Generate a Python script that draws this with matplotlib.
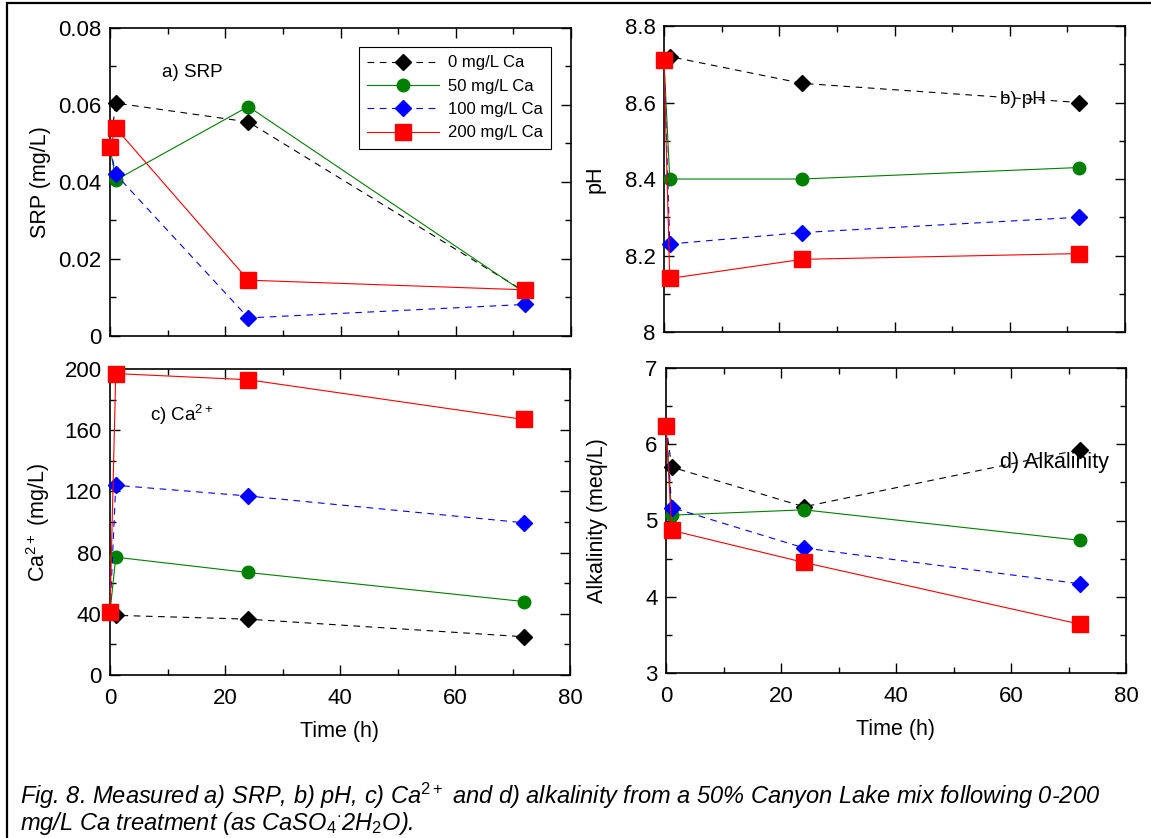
import matplotlib
matplotlib.use("Agg")
import matplotlib.pyplot as plt
from matplotlib.patches import Rectangle
from matplotlib.ticker import MultipleLocator, FuncFormatter

plt.rcParams['font.family'] = ['Liberation Sans', 'DejaVu Sans']
plt.rcParams['mathtext.fontset'] = 'custom'
plt.rcParams['mathtext.rm'] = 'Liberation Sans'
plt.rcParams['mathtext.it'] = 'Liberation Sans:italic'

# sampling times (h)
time_h = [0, 1, 24, 72]
doses = ['0 mg/L Ca', '50 mg/L Ca', '100 mg/L Ca', '200 mg/L Ca']

# a) SRP (mg/L)
srp_0 = [0.049, 0.0605, 0.0556, 0.0115]
srp_50 = [0.049, 0.0405, 0.0596, 0.0112]
srp_100 = [0.049, 0.042, 0.0047, 0.0082]
srp_200 = [0.049, 0.054, 0.0145, 0.012]

# b) pH
ph_0 = [8.71, 8.72, 8.65, 8.60]
ph_50 = [8.71, 8.40, 8.40, 8.43]
ph_100 = [8.71, 8.23, 8.26, 8.30]
ph_200 = [8.71, 8.14, 8.19, 8.205]

# c) Ca2+ (mg/L)
ca_0 = [41, 39, 36.5, 25]
ca_50 = [41, 77, 67, 48]
ca_100 = [41, 124, 117, 99.5]
ca_200 = [41, 197, 193, 167]

# d) Alkalinity (meq/L)
alk_0 = [6.24, 5.70, 5.18, 5.93]
alk_50 = [6.24, 5.07, 5.14, 4.74]
alk_100 = [6.24, 5.17, 4.64, 4.17]
alk_200 = [6.24, 4.87, 4.45, 3.64]

styles = [
    dict(color='black', ls=(0, (6, 5)), marker='D', ms=8),
    dict(color='green', ls='-', marker='o', ms=9),
    dict(color='blue', ls=(0, (6, 5)), marker='D', ms=8),
    dict(color='red', ls='-', marker='s', ms=11),
]

W, H = 1151, 838
fig = plt.figure(figsize=(W / 100, H / 100), dpi=100)


def add_ax(x0, y0, x1, y1):
    return fig.add_axes([x0 / W, 1 - y1 / H, (x1 - x0) / W, (y1 - y0) / H])


ax_a = add_ax(110, 28, 571, 336)
ax_b = add_ax(664, 26, 1125, 332)
ax_c = add_ax(110, 369, 570, 675)
ax_d = add_ax(666, 368, 1126, 673)

panels = [
    (ax_a, [srp_0, srp_50, srp_100, srp_200], (0, 0.08), 0.02, 0.01, 'SRP (mg/L)'),
    (ax_b, [ph_0, ph_50, ph_100, ph_200], (8, 8.8), 0.2, 0.1, 'pH'),
    (ax_c, [ca_0, ca_50, ca_100, ca_200], (0, 200), 40, 20, 'Ca$^{2+}$ (mg/L)'),
    (ax_d, [alk_0, alk_50, alk_100, alk_200], (3, 7), 1, 0.5, 'Alkalinity (meq/L)'),
]

fmt = FuncFormatter(lambda v, p: '%g' % round(v, 6))

for i, (ax, series, ylim, major, minor, ylabel) in enumerate(panels):
    for vals, st, lab in zip(series, styles, doses):
        ax.plot(time_h, vals, color=st['color'], ls=st['ls'], lw=0.8,
                marker=st['marker'], ms=st['ms'], mec=st['color'],
                mfc=st['color'], label=lab, clip_on=False, zorder=3)
    ax.set_xlim(0, 80)
    ax.set_ylim(*ylim)
    ax.xaxis.set_major_locator(MultipleLocator(20))
    ax.xaxis.set_minor_locator(MultipleLocator(10))
    ax.yaxis.set_major_locator(MultipleLocator(major))
    ax.yaxis.set_minor_locator(MultipleLocator(minor))
    ax.yaxis.set_major_formatter(fmt)
    ax.tick_params(which='both', direction='in', top=True, right=True,
                   labelsize=16, width=1)
    ax.tick_params(axis='y', pad=6)
    ax.tick_params(axis='x', pad=9)
    ax.tick_params(which='major', length=7)
    ax.tick_params(which='minor', length=4)
    for sp in ax.spines.values():
        sp.set_linewidth(1.2)
    ax.set_ylabel(ylabel, fontsize=15.5)
    ax.yaxis.set_label_coords(-0.127, 0.5)
    if i < 2:
        ax.tick_params(labelbottom=False)
    else:
        ax.set_xlabel('Time (h)', fontsize=15.5, labelpad=9)

ax_a.text(0.113, 0.855, 'a) SRP', transform=ax_a.transAxes, fontsize=13.5, va='center')
ax_b.text(0.729, 0.76, 'b) pH', transform=ax_b.transAxes, fontsize=13.5, va='center')
ax_c.text(0.087, 0.85, 'c) Ca$^{2+}$', transform=ax_c.transAxes, fontsize=13.5, va='center')
ax_d.text(0.726, 0.69, 'd) Alkalinity', transform=ax_d.transAxes, fontsize=15.5, va='center')

leg = ax_a.legend(loc='upper right', bbox_to_anchor=(0.957, 0.938), borderaxespad=0,
                  fontsize=12, fancybox=False, edgecolor='black', framealpha=1,
                  handlelength=4.3, borderpad=0.5, labelspacing=0.5,
                  handletextpad=0.55)
leg.get_frame().set_linewidth(0.8)

caption = ("Fig. 8. Measured a) SRP, b) pH, c) Ca$^{\\mathit{2+}}$ and d) alkalinity from a 50% "
           "Canyon Lake mix following 0-200\nmg/L Ca treatment (as CaSO$_{\\mathit{4}}$$^{\\cdot}$"
           "2H$_{\\mathit{2}}$O).")
fig.text(20 / W, 1 - 781 / H, caption, fontsize=17, style='italic', va='top',
         linespacing=0.95)

fig.patches.append(Rectangle((7 / W, -0.1), 1.2, 1.1 - 3 / H, transform=fig.transFigure,
                             fill=False, ec='black', lw=1.6))

fig.savefig('out.png', dpi=100)
